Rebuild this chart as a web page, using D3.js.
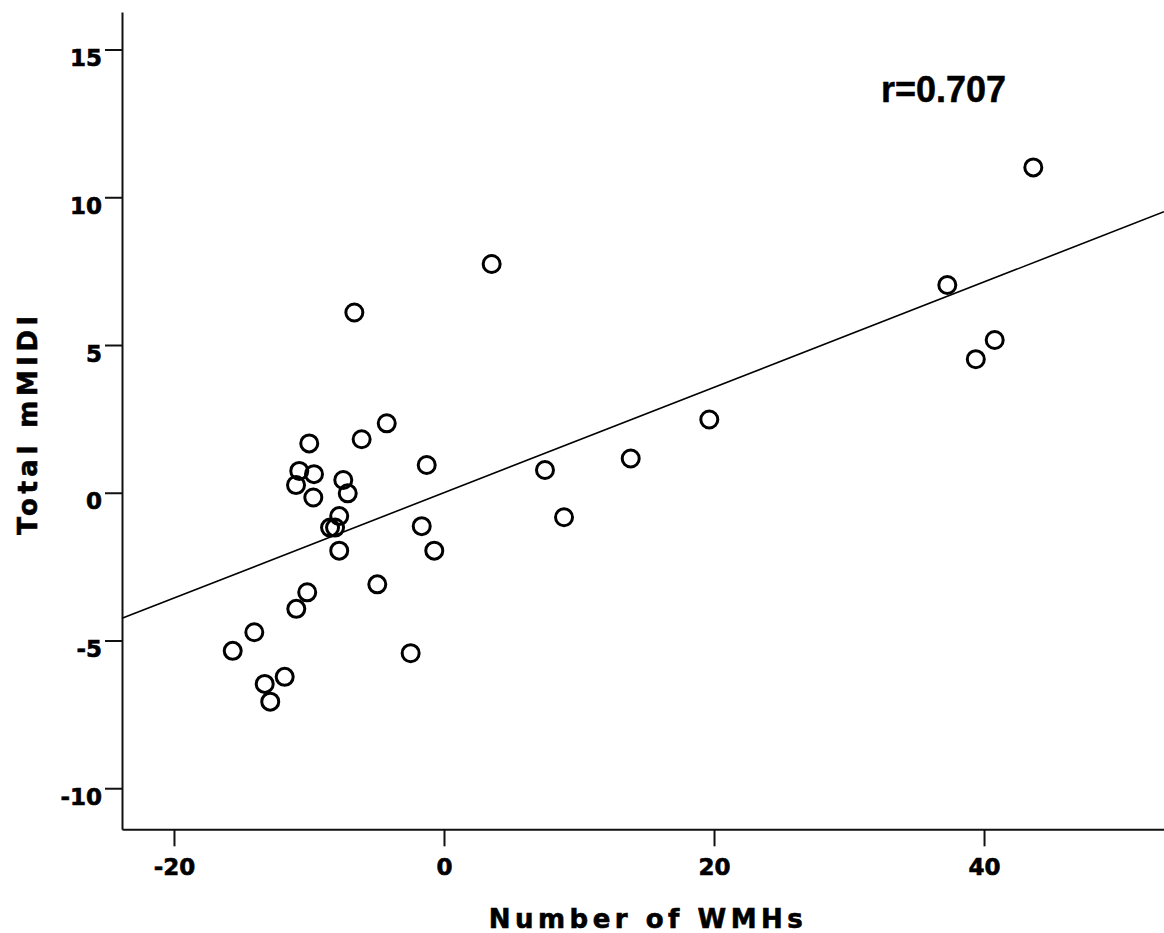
<!DOCTYPE html>
<html>
<head>
<meta charset="utf-8">
<script src="https://cdn.jsdelivr.net/npm/d3@7"></script>
<style>
  body { margin: 0; background: #fff; }
  svg { display: block; font-family: "Liberation Sans", Arial, sans-serif; }
</style>
</head>
<body>
<div class="scatter"></div>
<script>
//Data
var wmh = [-9.98, -6.10, -4.24, -10.72, -9.63, -10.96, -9.68, -7.46, -7.13, -7.76,
           -8.44, -8.07, -1.28, -1.65, -0.72, -7.76, -4.94, -10.13, -10.94, -14.05,
           -15.65, -2.47, -11.80, -13.28, -12.87, 43.65, 37.28, 40.79, 39.39, 3.53,
           7.48, 8.89, 13.83, 19.65, -6.64];
var mmidi = [1.67, 1.81, 2.35, 0.74, 0.63, 0.26, -0.16, 0.43, -0.02, -0.79,
             -1.18, -1.18, 0.94, -1.13, -1.96, -1.96, -3.10, -3.37, -3.93, -4.72,
             -5.35, -5.43, -6.23, -6.47, -7.07, 11.01, 7.03, 5.17, 4.52, 7.74,
             0.77, -0.83, 1.16, 2.48, 6.10];
var fitX = [-23.85, 53.33];
var fitY = [-4.25, 9.51];
var xTicks = [-20, 0, 20, 40];
var yTicks = [-10, -5, 0, 5, 10, 15];
var rLabel = "r=0.707";

//Width and height
var w = 1164;
var h = 933;

var svg = d3.select(".scatter")
    .append("svg")
    .attr("width", w)
    .attr("height", h);

//Scales
var xScale = d3.scaleLinear()
    .domain([-23.85, 53.33])
    .range([122, 1164]);

var yScale = d3.scaleLinear()
    .domain([-11.39, 16.27])
    .range([829.3, 12]);

//Axes (plain hyphen for negatives, like the original)
var fmt = d => String(d);

var xAxis = d3.axisBottom(xScale).tickValues(xTicks).tickFormat(fmt).tickSize(17).tickSizeOuter(0);
var gx = svg.append("g")
    .attr("transform", "translate(0," + yScale.range()[0] + ")")
    .call(xAxis);

var yAxis = d3.axisLeft(yScale).tickValues(yTicks).tickFormat(fmt).tickSize(17).tickSizeOuter(0);
var gy = svg.append("g")
    .attr("transform", "translate(" + xScale.range()[0] + ",0)")
    .call(yAxis);

[gx, gy].forEach(g => {
    g.select(".domain").attr("stroke", "#111").attr("stroke-width", 2);
    g.selectAll(".tick line").attr("stroke", "#111").attr("stroke-width", 2);
    g.selectAll(".tick text")
        .attr("fill", "#000")
        .attr("stroke", "#000")
        .attr("stroke-width", 0.6)
        .style("font-family", "'DejaVu Sans', sans-serif")
        .style("font-size", "23px")
        .style("font-weight", "bold");
});

gx.selectAll(".tick text")
    .attr("y", 46)
    .attr("dy", 0);

gy.selectAll(".tick text")
    .attr("x", -20)
    .attr("y", 16)
    .attr("dy", 0);

//Fit line
svg.append("line")
    .attr("x1", xScale(fitX[0]))
    .attr("y1", yScale(fitY[0]))
    .attr("x2", xScale(fitX[1]))
    .attr("y2", yScale(fitY[1]))
    .attr("stroke", "#000")
    .attr("stroke-width", 1.6);

//Points
svg.selectAll(".dot")
    .data(d3.range(wmh.length))
    .enter()
    .append("circle")
    .attr("class", "dot")
    .attr("cx", i => xScale(wmh[i]))
    .attr("cy", i => yScale(mmidi[i]))
    .attr("r", 8.5)
    .attr("fill", "none")
    .attr("stroke", "#000")
    .attr("stroke-width", 3);

//Correlation label
svg.append("text")
    .attr("x", 881)
    .attr("y", 101.5)
    .attr("stroke", "#000")
    .attr("stroke-width", 0.5)
    .style("font-size", "36px")
    .style("font-weight", "bold")
    .text(rLabel);

//Axis titles
svg.append("text")
    .attr("x", 648)
    .attr("y", 928)
    .attr("text-anchor", "middle")
    .attr("stroke", "#000")
    .attr("stroke-width", 0.6)
    .style("font-family", "'DejaVu Sans', sans-serif")
    .style("font-size", "26px")
    .style("font-weight", "bold")
    .style("letter-spacing", "4.5px")
    .text("Number of WMHs");

svg.append("text")
    .attr("transform", "translate(37,423) rotate(-90)")
    .attr("text-anchor", "middle")
    .attr("stroke", "#000")
    .attr("stroke-width", 0.6)
    .style("font-family", "'DejaVu Sans', sans-serif")
    .style("font-size", "26px")
    .style("font-weight", "bold")
    .style("letter-spacing", "4.5px")
    .text("Total mMIDI");
</script>
</body>
</html>
